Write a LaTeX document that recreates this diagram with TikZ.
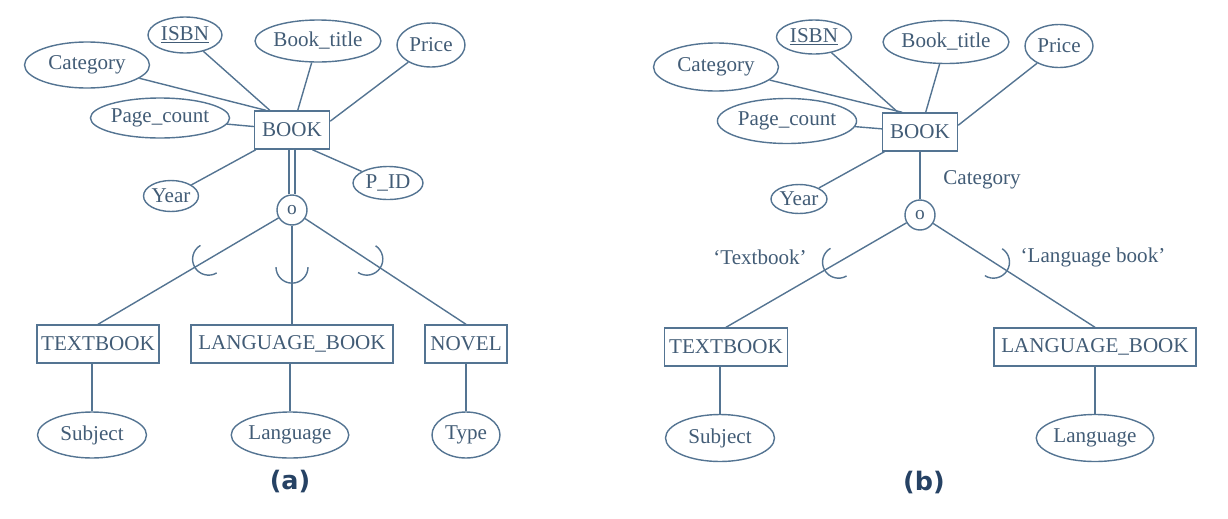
\documentclass[tikz,border=0pt]{standalone}
\usepackage{fontspec}
\setmainfont{Liberation Serif}
\newfontfamily\capfont{DejaVu Sans}
\usetikzlibrary{shapes.geometric,calc}
\definecolor{LineClr}{RGB}{84,116,146}
\definecolor{TextClr}{RGB}{66,92,118}
\definecolor{CapClr}{RGB}{38,66,100}

% subset mark: half circle on the line from #1 to #2, at position #3
\newcommand{\subsetarc}[3]{%
  \draw[conn] let \p1=($(#2)-(#1)$), \n1={atan2(\y1,\x1)} in
    ($(#1)!#3!(#2)$) ++(\n1+90:0.32cm)
    arc[start angle=\n1+90, delta angle=-180, radius=0.32cm];}

\begin{document}
\begin{tikzpicture}[x=0.02cm,y=-0.02cm,
  conn/.style={draw=LineClr,line width=0.8pt},
  entity/.style={draw=LineClr,line width=0.8pt,rectangle,inner sep=0pt,
    minimum height=0.76cm,text=TextClr,font=\fontsize{12}{14}\selectfont},
  attr/.style 2 args={draw=LineClr,line width=0.8pt,ellipse,inner sep=0pt,
    minimum width=#1,minimum height=#2,text=TextClr,font=\fontsize{12}{14}\selectfont},
  disj/.style={draw=LineClr,line width=0.8pt,circle,inner sep=0pt,
    minimum size=0.6cm,text=TextClr,font=\fontsize{11}{12}\selectfont},
  lbl/.style={text=TextClr,font=\fontsize{12}{14}\selectfont,inner sep=1pt},
  figcap/.style={text=CapClr,font=\capfont\bfseries\fontsize{14.5}{16}\selectfont}]
\useasboundingbox (0,0) rectangle (1228,518);

% (a) overlapping subclasses of BOOK
\node[entity,minimum width=1.5cm] (book1) at (292,130) {BOOK};
\node[attr={2.5cm}{0.92cm}] (cat1) at (87,65) {Category};
\node[attr={1.48cm}{0.72cm}] (isbn1) at (185,35) {\underline{ISBN}};
\node[attr={2.18cm}{0.84cm}] (title1) at (318,41) {Book\_title};
\node[attr={1.36cm}{0.88cm}] (price1) at (431,45) {Price};
\node[attr={2.58cm}{0.8cm}] (pages1) at (160,118) {Page\_count};
\node[attr={1.06cm}{0.62cm}] (year1) at (171,196) {Year};
\node[attr={1.4cm}{0.66cm}] (pid1) at (388,183) {P\_ID};
\node[disj] (o1) at (292,210) {o};

\node[entity,minimum width=2.44cm] (text1) at (98,344) {TEXTBOOK};
\node[entity,minimum width=4.04cm] (lang1) at (292,344) {LANGUAGE\_BOOK};
\node[entity,minimum width=1.64cm] (novel1) at (466,344) {NOVEL};
\node[attr={2.18cm}{0.92cm}] (subj1) at (92,435) {Subject};
\node[attr={2.14cm}{0.92cm}] (langattr1) at (290,435) {Language};
\node[attr={1.36cm}{0.92cm}] (type1) at (466,435) {Type};
\node[figcap] (capa) at (290,482) {(a)};

\draw[conn] (cat1) -- (book1.143);
\draw[conn] (isbn1) -- (book1);
\draw[conn] (title1) -- (book1);
\draw[conn] (price1) -- (book1.13);
\draw[conn] (pages1) -- (book1);
\draw[conn] (year1) -- (book1);
\draw[conn] (pid1) -- (book1.-44);
\draw[conn,double=white,double distance=2.6pt] (book1) -- (o1);

\draw[conn] (o1) -- (text1.north);
\draw[conn] (o1) -- (lang1.north);
\draw[conn] (o1) -- (novel1.north);
\subsetarc{o1}{text1.north}{0.43}
\subsetarc{o1}{lang1.north}{0.5}
\subsetarc{o1}{novel1.north}{0.43}

\draw[conn] (subj1) -- (subj1 |- text1.south);
\draw[conn] (langattr1) -- (langattr1 |- lang1.south);
\draw[conn] (type1) -- (type1 |- novel1.south);

% (b) attribute-defined subclasses
\node[entity,minimum width=1.5cm] (book2) at (920,132) {BOOK};
\node[attr={2.5cm}{0.96cm}] (cat2) at (716,67) {Category};
\node[attr={1.5cm}{0.68cm}] (isbn2) at (814,37) {\underline{ISBN}};
\node[attr={2.16cm}{0.86cm}] (title2) at (946,42) {Book\_title};
\node[attr={1.36cm}{0.86cm}] (price2) at (1059,46) {Price};
\node[attr={2.58cm}{0.9cm}] (pages2) at (787,121) {Page\_count};
\node[attr={1.12cm}{0.58cm}] (year2) at (799,199) {Year};
\node[disj] (o2) at (920,215) {o};
\node[lbl] (deflbl) at (982,180) {Category};

\node[entity,minimum width=2.46cm] (text2) at (726,347) {TEXTBOOK};
\node[entity,minimum width=4.04cm] (lang2) at (1095,347) {LANGUAGE\_BOOK};
\node[attr={2.18cm}{0.94cm}] (subj2) at (720,438) {Subject};
\node[attr={2.18cm}{0.94cm}] (langattr2) at (1095,438) {Language};
\node[lbl] (textlbl) at (760,257) {‘Textbook’};
\node[lbl] (langlbl) at (1093,257) {‘Language book’};
\node[figcap] (capb) at (924,482) {(b)};

\draw[conn] (cat2) -- (book2.132);
\draw[conn] (isbn2) -- (book2);
\draw[conn] (title2) -- (book2);
\draw[conn] (price2) -- (book2.10);
\draw[conn] (pages2) -- (book2);
\draw[conn] (year2) -- (book2);
\draw[conn] (book2) -- (o2);

\draw[conn] (o2) -- (text2.north);
\draw[conn] (o2) -- (lang2.north);
\subsetarc{o2}{text2.north}{0.42}
\subsetarc{o2}{lang2.north}{0.42}

\draw[conn] (subj2) -- (subj2 |- text2.south);
\draw[conn] (langattr2) -- (langattr2 |- lang2.south);
\end{tikzpicture}
\end{document}
